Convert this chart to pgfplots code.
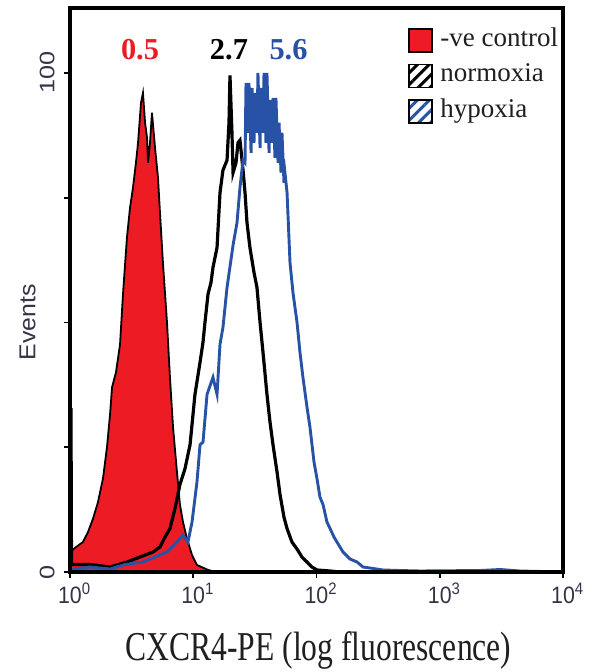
\documentclass[border=0pt]{standalone}
\usepackage{fontspec}
\setmainfont{Liberation Serif}
\newfontfamily\sansX{Liberation Sans}[FakeStretch=0.9]
\newfontfamily\sansY{Liberation Sans}[FakeStretch=1.2]
\newfontfamily\sansEv{Liberation Sans}[FakeStretch=1.08]
\newfontfamily\serifX{Liberation Serif}[FakeStretch=0.77]
\usepackage{pgfplots}
\pgfplotsset{compat=1.18}
\usetikzlibrary{patterns.meta}
\definecolor{redc}{RGB}{237,28,36}
\definecolor{bluec}{RGB}{40,82,165}
\definecolor{tickc}{RGB}{55,50,70}
\begin{document}
\begin{tikzpicture}
\begin{axis}[
  scale only axis, width=246.5pt, height=282pt,
  xmin=0, xmax=4, ymin=0, ymax=113,
  axis line style={line width=2pt},
  xtick={0,1,2,3,4},
  xticklabels={{10\rlap{\textsuperscript{0}}},{10\rlap{\textsuperscript{1}}},{10\rlap{\textsuperscript{2}}},{10\rlap{\textsuperscript{3}}},{10\rlap{\textsuperscript{4}}}},
  ytick={0,25,50,75,100}, yticklabels={0,,,,100},
  tick align=outside, xtick pos=bottom, ytick pos=left,
  major tick length=3pt,
  tick style={line width=0.9pt, black},
  xticklabel style={font=\sansX\fontsize{11.85}{14}\selectfont, anchor=north, inner sep=0pt, text=tickc},
  yticklabel style={font=\sansY\fontsize{10.5}{12}\selectfont, rotate=90, anchor=south, inner sep=0pt, text=tickc},
  xticklabel shift=2.5pt, yticklabel shift=4.5pt,
  xlabel={CXCR4-PE (log fluorescence)},
  xlabel style={font=\serifX\fontsize{20.5}{24}\selectfont, at={(axis description cs:0.504,0)}, anchor=base, yshift=-44pt, inner sep=0pt, text=black!88},
  ylabel={Events},
  ylabel style={font=\sansEv\fontsize{11.5}{14}\selectfont, at={(axis description cs:-0.0862,0.4424)}, anchor=center, inner sep=0pt, text=tickc},
  legend style={at={(rel axis cs:0.6836,0.968)}, anchor=north west, draw=none, fill=none, inner sep=0pt, row sep=3.75pt, column sep=3.5pt, font=\fontsize{13.5}{16}\selectfont, nodes={inner sep=0pt, text height=10pt, text depth=4pt, text=black!88}},
  legend cell align=left,
]
% -ve control
\addplot[fill=redc, draw=black, line width=0.9pt,
  legend image code/.code={\draw[fill=redc, draw=black, line width=0.8pt] (0pt,-5.75pt) rectangle (11.5pt,5.75pt);}]
coordinates {(0,4) (0.049,5) (0.105,6) (0.146,8) (0.187,10.7) (0.227,14) (0.268,18.8) (0.300,25) (0.325,31.6) (0.341,37) (0.373,40) (0.406,45.6) (0.430,55.7) (0.462,67) (0.487,73) (0.511,77) (0.535,82) (0.552,86) (0.576,94) (0.592,96) (0.609,90) (0.625,87) (0.633,82) (0.649,86) (0.665,92) (0.690,85) (0.714,79) (0.730,72) (0.754,62) (0.787,50) (0.811,39) (0.836,29) (0.868,20) (0.892,13.5) (0.917,10) (0.949,6.7) (0.990,3.4) (1.030,1.4) (1.112,0.5) (1.176,0)} \closedcycle;
\addlegendentry{-ve control}
% normoxia
\addplot[black, line width=1.6pt,
  legend image code/.code={\draw[line width=0.8pt, draw=black, pattern={Lines[angle=45,distance=4.2pt,line width=1.5pt]}, pattern color=black] (0pt,-5.75pt) rectangle (11.5pt,5.75pt);}]
coordinates {(0,32.5) (0.008,32.5) (0.012,1.5) (0.162,1.5) (0.325,1) (0.462,2) (0.568,3) (0.673,4) (0.730,5) (0.771,7) (0.811,8.7) (0.852,12.7) (0.892,17.5) (0.933,20.7) (0.974,25.5) (1.014,35.6) (1.055,42) (1.079,46) (1.095,50) (1.120,55.7) (1.144,58) (1.160,61) (1.193,65) (1.217,76) (1.241,80.5) (1.274,82.5) (1.290,90) (1.298,99.5) (1.314,88) (1.323,80) (1.347,82) (1.363,86) (1.379,86.5) (1.404,80.5) (1.420,76) (1.436,70) (1.460,65) (1.493,60) (1.517,57) (1.542,50) (1.566,44) (1.598,35.6) (1.623,30) (1.647,25.5) (1.680,20) (1.704,15.5) (1.736,11) (1.761,8.7) (1.801,6) (1.842,4.6) (1.882,3) (1.923,2) (1.963,1) (2.004,0.4) (2.110,0.2) (2.191,0)};
\addlegendentry{normoxia}
% hypoxia
\addplot[bluec, line width=1.45pt,
  legend image code/.code={\draw[line width=0.8pt, draw=black, pattern={Lines[angle=45,distance=4.2pt,line width=1.5pt]}, pattern color=bluec] (0pt,-5.75pt) rectangle (11.5pt,5.75pt);}]
coordinates {(0,0.5) (0.162,1) (0.325,0.6) (0.446,1.5) (0.592,2) (0.690,3) (0.787,4) (0.868,6) (0.917,7.4) (0.957,6) (0.990,10) (1.030,18) (1.055,25.5) (1.079,26) (1.112,35.6) (1.160,39) (1.193,35.6) (1.217,45.6) (1.241,49) (1.274,57) (1.323,65.5) (1.355,70) (1.379,77) (1.404,82.5) (1.420,82) (1.428,98) (1.444,88) (1.452,98) (1.469,84) (1.477,97) (1.493,86) (1.501,96) (1.517,88) (1.525,100) (1.542,85) (1.550,97) (1.566,88) (1.574,100) (1.590,86) (1.598,100) (1.615,84) (1.623,94.6) (1.639,86) (1.647,95) (1.663,83) (1.671,95) (1.688,82) (1.696,90) (1.712,80) (1.720,88) (1.736,78) (1.744,80) (1.761,76) (1.785,62) (1.809,56) (1.842,50) (1.866,44) (1.890,39) (1.923,33) (1.947,29) (1.980,22) (2.004,18.7) (2.028,15) (2.053,13.5) (2.085,10) (2.110,8.7) (2.142,7) (2.166,6) (2.215,4) (2.272,2.6) (2.329,2) (2.377,1) (2.434,0.8) (2.540,0.4) (2.677,0.3) (2.840,0.2) (3.327,0.3) (3.489,0.5) (3.651,0.2) (4.0,0)};
\addlegendentry{hypoxia}
\node[font=\bfseries\fontsize{15.2}{18}\selectfont, text=redc, anchor=base, inner sep=0pt] at (axis cs:0.568,102.6) {0.5};
\node[font=\bfseries\fontsize{15.2}{18}\selectfont, text=black, anchor=base, inner sep=0pt] at (axis cs:1.290,102.6) {2.7};
\node[font=\bfseries\fontsize{15.2}{18}\selectfont, text=bluec, anchor=base, inner sep=0pt] at (axis cs:1.773,102.6) {5.6};
\end{axis}
\draw[line width=2pt] (current axis.south west) rectangle (current axis.north east);
\pgfresetboundingbox
\path ([shift={(-35pt,-50pt)}]current axis.south west) rectangle ([shift={(15.5pt,4pt)}]current axis.north east);
\end{tikzpicture}
\end{document}
